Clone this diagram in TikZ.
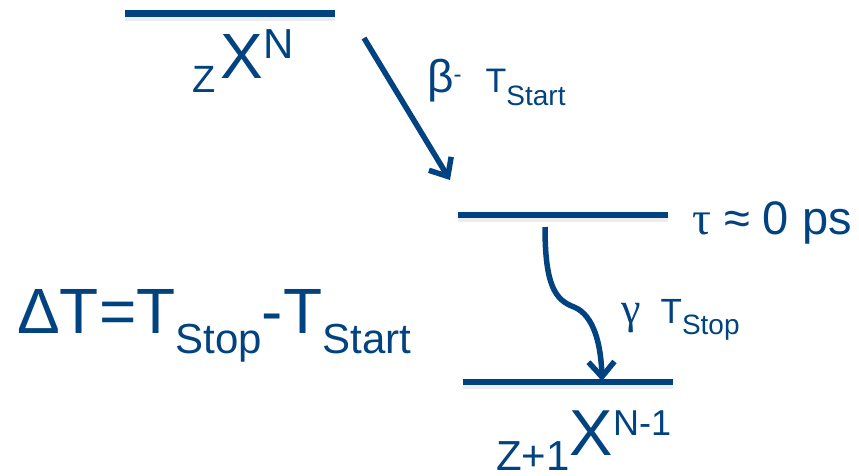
\documentclass[tikz,border=0pt]{standalone}
\usepackage{fontspec}
\setmainfont{Liberation Sans}
\newfontfamily\grserif{Liberation Serif}
\usetikzlibrary{arrows.meta}
\definecolor{dblue}{RGB}{1,66,128}
\newcommand\fs[1]{\fontsize{#1}{#1}\selectfont}
\tikzset{
  level/.style={line width=6.5pt, dblue},
  lshadow/.style={line width=6pt, black!7},
  decay/.style={line width=5.5pt, dblue, -{Straight Barb[length=15pt,width=26pt]}},
  lbl/.style={inner sep=0pt, anchor=base west, text=dblue, font=\fs{40}}
}
\begin{document}
\begin{tikzpicture}[x=1pt,y=-1pt]
\useasboundingbox (0,0) rectangle (859,475);
% level coordinates
\coordinate (topL) at (125,13.5);  \coordinate (topR) at (335,13.5);
\coordinate (midL) at (458,215);   \coordinate (midR) at (668,215);
\coordinate (botL) at (463,382);   \coordinate (botR) at (673,382);
% shadows
\draw[lshadow] ([yshift=-4pt]topL) -- ([yshift=-4pt]topR);
\draw[lshadow] ([yshift=-4pt]midL) -- ([yshift=-4pt]midR);
\draw[lshadow] ([yshift=-4pt]botL) -- ([yshift=-4pt]botR);
% levels
\draw[level] (topL) -- (topR);
\draw[level] (midL) -- (midR);
\draw[level] (botL) -- (botR);
% decay arrows
\coordinate (bstart) at (364,38);
\coordinate (bend) at (450,180);
\draw[decay] (bstart) -- (bend);
\coordinate (gstart) at (545,227);
\coordinate (gmid) at (574,307);
\coordinate (gend) at (602,381);
\draw[decay] (gstart) .. controls (545,285) and (555,300) .. (gmid)
  .. controls (594,315) and (601,345) .. (gend);
% labels
\node[lbl] (ztop) at (192,78) {\raisebox{-14pt}{\fs{38}Z}\hspace{5pt}{\fs{64}X}\raisebox{20pt}{\fs{42}N}};
\node[lbl] (zbot) at (496,470) {{\fs{42}Z+1}\raisebox{15pt}{\fs{65}X\raisebox{20pt}{\fs{36}N-1}}};
\node[lbl] (beta) at (427,92) {{\fs{46}β}\raisebox{10pt}{\fs{24}-}\hspace{24pt}{\fs{34}T}\raisebox{-13pt}{\fs{28}Start}};
\node[lbl] (gamma) at (621,323) {{\fs{44}\grserif γ}\hspace{20pt}{\fs{35}T}\raisebox{-11pt}{\fs{28}Stop}};
\node[lbl] (tau) at (692,234) {\fs{47}{\grserif τ} ≈ 0 ps};
\node[lbl] (dt) at (17,333) {\fs{64}ΔT=T\raisebox{-20pt}{\fs{42}Stop}-T\raisebox{-20pt}{\fs{42}Start}};
\end{tikzpicture}
\end{document}
